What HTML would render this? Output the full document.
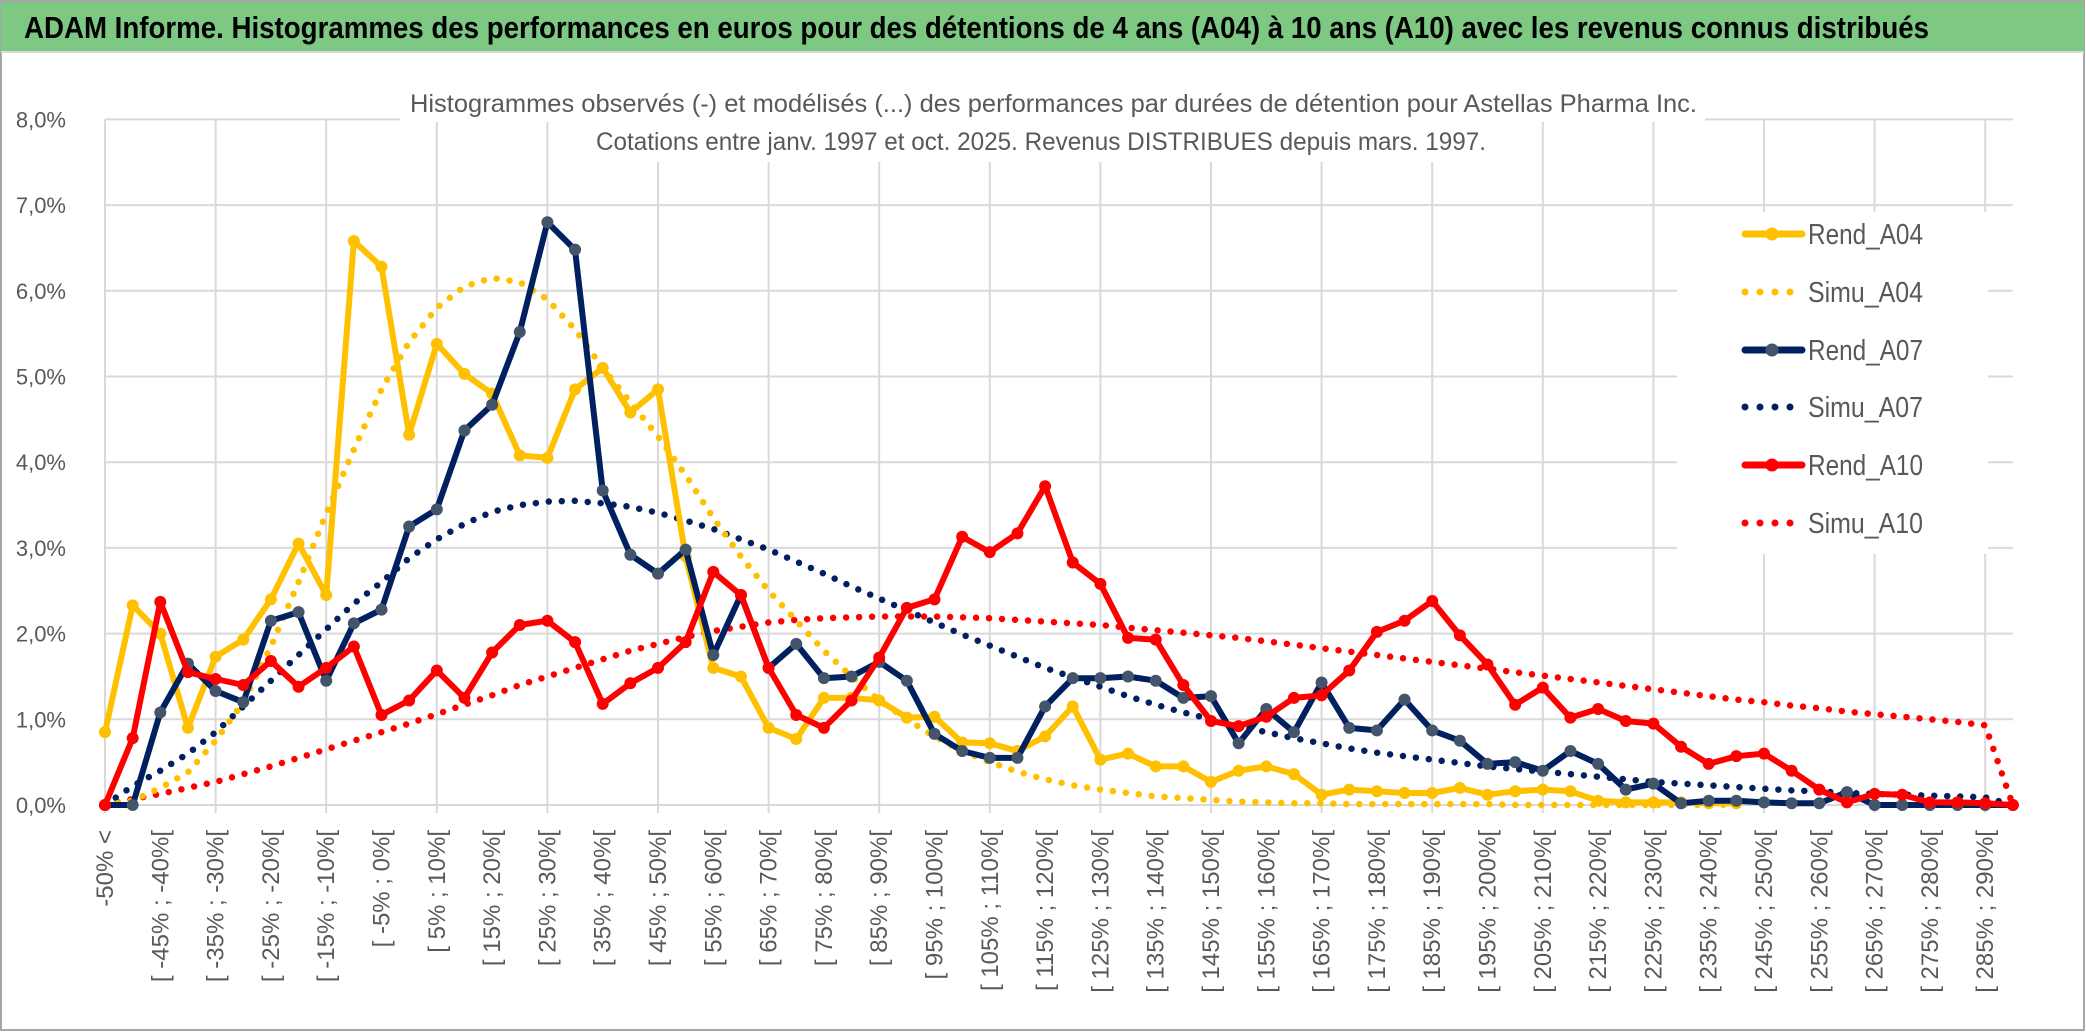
<!DOCTYPE html>
<html><head><meta charset="utf-8"><style>
html,body{margin:0;padding:0;background:#fff;}
svg{display:block;font-family:"Liberation Sans",sans-serif;}
</style></head><body>
<svg id="chart" width="2086" height="1033" viewBox="0 0 2086 1033" xmlns="http://www.w3.org/2000/svg">
<rect x="0" y="0" width="2086" height="1033" fill="#fff"/>
<rect x="1" y="1" width="2083" height="1029" fill="none" stroke="#a6a6a6" stroke-width="2"/>
<rect x="1" y="2" width="2083" height="49" fill="#7dc882"/>
<line x1="1" y1="52" x2="2084" y2="52" stroke="#d9d9d9" stroke-width="2"/>
<text x="24" y="38" font-size="31" font-weight="bold" fill="#000" textLength="1905" lengthAdjust="spacingAndGlyphs">ADAM Informe. Histogrammes des performances en euros pour des détentions de 4 ans (A04) à 10 ans (A10) avec les revenus connus distribués</text>
<g id="grid"></g>
<g id="yaxis"></g>
<g id="xaxis"></g>
<rect x="400" y="80" width="1305" height="42" fill="#fff"/>
<rect x="585" y="122" width="912" height="40" fill="#fff"/>
<text x="410" y="112" font-size="25" fill="#595959" textLength="1287" lengthAdjust="spacingAndGlyphs">Histogrammes observés (-) et modélisés (...) des performances par durées de détention pour Astellas Pharma Inc.</text>
<text x="596" y="150" font-size="25" fill="#595959" textLength="890" lengthAdjust="spacingAndGlyphs">Cotations entre janv. 1997 et oct. 2025. Revenus DISTRIBUES depuis mars. 1997.</text>
<g id="series"></g>
<rect x="1677" y="212" width="311" height="342" fill="#fff"/>
<g id="legend"></g>
</svg>
<script>
const categories = [];
categories.push("-50% <");
for (let a = -50; a < 290; a += 5) categories.push("[ " + a + "% ; " + (a + 5) + "%[");
categories.push(">= 290%");
const yTicks = [0, 1, 2, 3, 4, 5, 6, 7, 8];
const yTickLabels = ["0,0%", "1,0%", "2,0%", "3,0%", "4,0%", "5,0%", "6,0%", "7,0%", "8,0%"];
const rendA04 = [0.85,2.33,2.0,0.9,1.73,1.93,2.4,3.05,2.45,6.58,6.28,4.32,5.38,5.03,4.8,4.08,4.05,4.85,5.1,4.58,4.85,2.9,1.6,1.5,0.9,0.77,1.25,1.25,1.22,1.02,1.03,0.73,0.72,0.63,0.8,1.15,0.53,0.6,0.45,0.45,0.27,0.4,0.45,0.36,0.12,0.18,0.16,0.14,0.14,0.2,0.12,0.16,0.18,0.16,0.05,0.03,0.03,0.03,0.02,0.02,null,null,null,null,null,null,null,null,null,null];
const simuA04 = [0,0.05,0.2,0.38,0.75,1.2,1.85,2.6,3.4,4.15,4.85,5.4,5.8,6.05,6.15,6.1,5.9,5.55,5.1,4.7,4.3,3.85,3.35,2.9,2.5,2.15,1.8,1.5,1.22,1.0,0.8,0.63,0.5,0.39,0.3,0.23,0.18,0.14,0.1,0.08,0.06,0.04,0.03,0.02,0.02,0.01,0.01,0.01,0.01,0.01,0.01,0,0,0,0,0,0,0,0,0,null,null,null,null,null,null,null,null,null,null];
const rendA07 = [0,0,1.08,1.65,1.33,1.2,2.15,2.25,1.45,2.12,2.28,3.25,3.45,4.37,4.67,5.52,6.8,6.48,3.67,2.92,2.7,2.98,1.75,2.45,1.6,1.88,1.48,1.5,1.67,1.45,0.83,0.63,0.55,0.55,1.15,1.48,1.48,1.5,1.45,1.25,1.27,0.72,1.12,0.85,1.43,0.9,0.87,1.23,0.87,0.75,0.48,0.5,0.4,0.63,0.48,0.18,0.25,0.02,0.05,0.05,0.03,0.02,0.02,0.15,0,0,0,0,0,0];
const simuA07 = [0,0.22,0.4,0.6,0.85,1.15,1.45,1.75,2.05,2.35,2.6,2.88,3.1,3.28,3.42,3.5,3.54,3.55,3.52,3.48,3.41,3.32,3.22,3.1,2.98,2.84,2.7,2.55,2.41,2.27,2.13,1.99,1.86,1.73,1.6,1.49,1.38,1.27,1.17,1.08,1.0,0.92,0.85,0.78,0.72,0.66,0.61,0.57,0.53,0.49,0.45,0.42,0.39,0.36,0.33,0.3,0.27,0.25,0.23,0.21,0.19,0.17,0.16,0.14,0.13,0.12,0.11,0.1,0.09,0.0];
const rendA10 = [0,0.78,2.37,1.55,1.47,1.4,1.68,1.38,1.6,1.85,1.05,1.22,1.57,1.25,1.78,2.1,2.15,1.9,1.18,1.42,1.6,1.9,2.72,2.45,1.6,1.05,0.9,1.22,1.72,2.3,2.4,3.13,2.95,3.17,3.72,2.83,2.58,1.95,1.93,1.4,0.98,0.92,1.03,1.25,1.28,1.57,2.02,2.15,2.38,1.98,1.64,1.17,1.37,1.02,1.12,0.98,0.95,0.68,0.48,0.57,0.6,0.4,0.18,0.03,0.13,0.12,0.03,0.03,0.02,0];
const simuA10 = [0,0.07,0.13,0.2,0.27,0.36,0.45,0.55,0.65,0.75,0.85,0.95,1.06,1.17,1.28,1.4,1.5,1.6,1.7,1.8,1.88,1.96,2.03,2.08,2.13,2.16,2.18,2.19,2.2,2.2,2.2,2.19,2.18,2.16,2.14,2.12,2.1,2.07,2.04,2.01,1.98,1.95,1.91,1.87,1.83,1.79,1.75,1.71,1.67,1.63,1.59,1.55,1.51,1.47,1.43,1.39,1.35,1.31,1.27,1.23,1.2,1.16,1.13,1.09,1.06,1.03,1.0,0.97,0.93,0];

const NS = "http://www.w3.org/2000/svg";
const X0 = 105, DX = 27.65, Y0 = 805, DY = 85.7;
function xPos(i) { return X0 + i * DX; }
function yPos(v) { return Y0 - v * DY; }
function mk(tag, parent) { const e = document.createElementNS(NS, tag); parent.appendChild(e); return e; }

const grid = document.getElementById("grid");
const xEnd = xPos(categories.length - 1);
yTicks.forEach(function (t) {
  const l = mk("line", grid);
  
  
  l.setAttribute("x1", X0); l.setAttribute("x2", xEnd);
  l.setAttribute("y1", yPos(t)); l.setAttribute("y2", yPos(t));
  l.setAttribute("stroke", "#d9d9d9"); l.setAttribute("stroke-width", "2");
});
for (let i = 0; i < categories.length; i += 4) {
  const l = mk("line", grid);
  
  
  l.setAttribute("x1", xPos(i)); l.setAttribute("x2", xPos(i));
  l.setAttribute("y1", yPos(yTicks[yTicks.length - 1])); l.setAttribute("y2", Y0 + 8);
  l.setAttribute("stroke", "#d9d9d9"); l.setAttribute("stroke-width", "2");
}
const yaxis = document.getElementById("yaxis");
yTicks.forEach(function (t, k) {
  const tx = mk("text", yaxis);
  
  
  tx.setAttribute("x", 66); tx.setAttribute("y", yPos(t) + 8);
  tx.setAttribute("text-anchor", "end"); tx.setAttribute("font-size", "22");
  tx.setAttribute("fill", "#595959");
  tx.textContent = yTickLabels[k];
});
const xaxis = document.getElementById("xaxis");
categories.forEach(function (c, i) {
  if (i % 2 !== 0) return;
  const tx = mk("text", xaxis);
  
  
  const xx = xPos(i) + 8, yy = 830;
  tx.setAttribute("x", xx); tx.setAttribute("y", yy);
  tx.setAttribute("transform", "rotate(-90 " + xx + " " + yy + ")");
  tx.setAttribute("text-anchor", "end"); tx.setAttribute("font-size", "24");
  tx.setAttribute("fill", "#595959");
  tx.textContent = c;
});

const series = document.getElementById("series");
function pathFor(vals) {
  let d = "", pen = false;
  vals.forEach(function (v, i) {
    if (v === null) { pen = false; return; }
    d += (pen ? "L" : "M") + xPos(i).toFixed(1) + " " + yPos(v).toFixed(1) + " ";
    pen = true;
  });
  return d;
}
function drawDotted(vals, color, name) {
  const p = mk("path", series);
  
  
  p.setAttribute("d", pathFor(vals)); p.setAttribute("fill", "none");
  p.setAttribute("stroke", color); p.setAttribute("stroke-width", "6.5");
  p.setAttribute("stroke-linecap", "round"); p.setAttribute("stroke-dasharray", "0 13");
}
function drawSolid(vals, color, mcolor, name) {
  const g = mk("g", series);
  
  
  const p = mk("path", g);
  
  
  p.setAttribute("d", pathFor(vals)); p.setAttribute("fill", "none");
  p.setAttribute("stroke", color); p.setAttribute("stroke-width", "6");
  p.setAttribute("stroke-linejoin", "round");
  vals.forEach(function (v, i) {
    if (v === null) return;
    const c = mk("circle", g);
    
    
    c.setAttribute("cx", xPos(i)); c.setAttribute("cy", yPos(v));
    c.setAttribute("r", "6"); c.setAttribute("fill", mcolor);
  });
}
drawDotted(simuA10, "#ff0000", "series-simu-a10");
drawDotted(simuA07, "#002060", "series-simu-a07");
drawDotted(simuA04, "#ffc000", "series-simu-a04");
drawSolid(rendA04, "#ffc000", "#ffc000", "series-rend-a04");
drawSolid(rendA07, "#002060", "#44546a", "series-rend-a07");
drawSolid(rendA10, "#ff0000", "#ff0000", "series-rend-a10");

const legendNames = ["Rend_A04", "Simu_A04", "Rend_A07", "Simu_A07", "Rend_A10", "Simu_A10"];
const legendColors = ["#ffc000", "#ffc000", "#002060", "#002060", "#ff0000", "#ff0000"];
const legendMarker = ["#ffc000", null, "#44546a", null, "#ff0000", null];
const legendY = [234, 292, 350, 407, 465, 523];
const legend = document.getElementById("legend");
legendNames.forEach(function (n, k) {
  const g = mk("g", legend);
  
  
  const y = legendY[k];
  const l = mk("line", g);
  l.setAttribute("x1", 1745); l.setAttribute("x2", 1802);
  l.setAttribute("y1", y); l.setAttribute("y2", y);
  l.setAttribute("stroke", legendColors[k]);
  if (legendMarker[k]) {
    l.setAttribute("stroke-width", "7"); l.setAttribute("stroke-linecap", "round");
    const c = mk("circle", g);
    c.setAttribute("cx", 1772); c.setAttribute("cy", y); c.setAttribute("r", "6.5");
    c.setAttribute("fill", legendMarker[k]);
  } else {
    l.setAttribute("stroke-width", "7"); l.setAttribute("stroke-linecap", "round");
    l.setAttribute("stroke-dasharray", "0 15");
  }
  const t = mk("text", g);
  t.setAttribute("x", 1808); t.setAttribute("y", y + 10);
  t.setAttribute("font-size", "29"); t.setAttribute("fill", "#595959");
  t.setAttribute("textLength", "115"); t.setAttribute("lengthAdjust", "spacingAndGlyphs");
  t.textContent = n;
});
</script>
</body></html>
